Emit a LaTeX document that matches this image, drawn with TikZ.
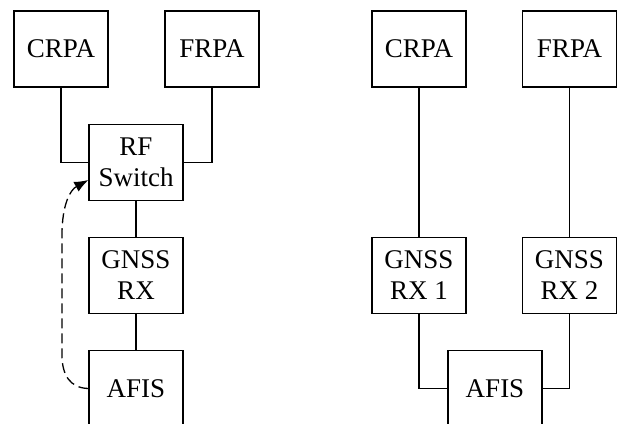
\documentclass[tikz,border=0pt]{standalone}
\usepackage{fontspec}
\setmainfont{Liberation Serif}
\usetikzlibrary{arrows.meta}
\begin{document}
\begin{tikzpicture}[x=1pt,y=-1pt,
  blk/.style={draw,line width=1.3pt,minimum width=94pt,minimum height=76pt,inner sep=0pt,align=center,font=\fontsize{27}{31}\selectfont},
  wire/.style={line width=1.3pt}]
\useasboundingbox (0,0) rectangle (617,423);
\clip (0,0) rectangle (617,423);
\fill[white] (0,0) rectangle (617,423);
% left
\node[blk] (crpaL) at (61,49) {CRPA};
\node[blk] (frpaL) at (212,49) {FRPA};
\node[blk] (sw) at (136,162.5) {RF\\Switch};
\node[blk] (rx) at (136,275.5) {GNSS\\RX};
\node[blk] (afisL) at (136,388.5) {AFIS};
\draw[wire] (crpaL.south) |- (sw.west);
\draw[wire] (frpaL.south) |- (sw.east);
\draw[wire] (sw.south) -- (rx.north);
\draw[wire] (rx.south) -- (afisL.north);
\coordinate (d1) at (62,355);
\coordinate (d2) at (62,235);
\draw[wire,dash pattern=on 10pt off 5pt,-{Latex[length=14pt,width=11pt]}]
  (afisL.west) .. controls (70,388) and (62,375) .. (d1) -- (d2)
  .. controls (62,205) and (70,190) .. (sw.west |- 0,180);
% right
\node[blk] (crpaR) at (419,49) {CRPA};
\node[blk] (frpaR) at (569.5,49) {FRPA};
\node[blk] (rx1) at (419,275.5) {GNSS\\RX 1};
\node[blk] (rx2) at (569.5,275.5) {GNSS\\RX 2};
\node[blk] (afisR) at (495,388.5) {AFIS};
\draw[wire] (crpaR.south) -- (rx1.north);
\draw[wire] (frpaR.south) -- (rx2.north);
\draw[wire] (rx1.south) |- (afisR.west);
\draw[wire] (rx2.south) |- (afisR.east);
\end{tikzpicture}
\end{document}
